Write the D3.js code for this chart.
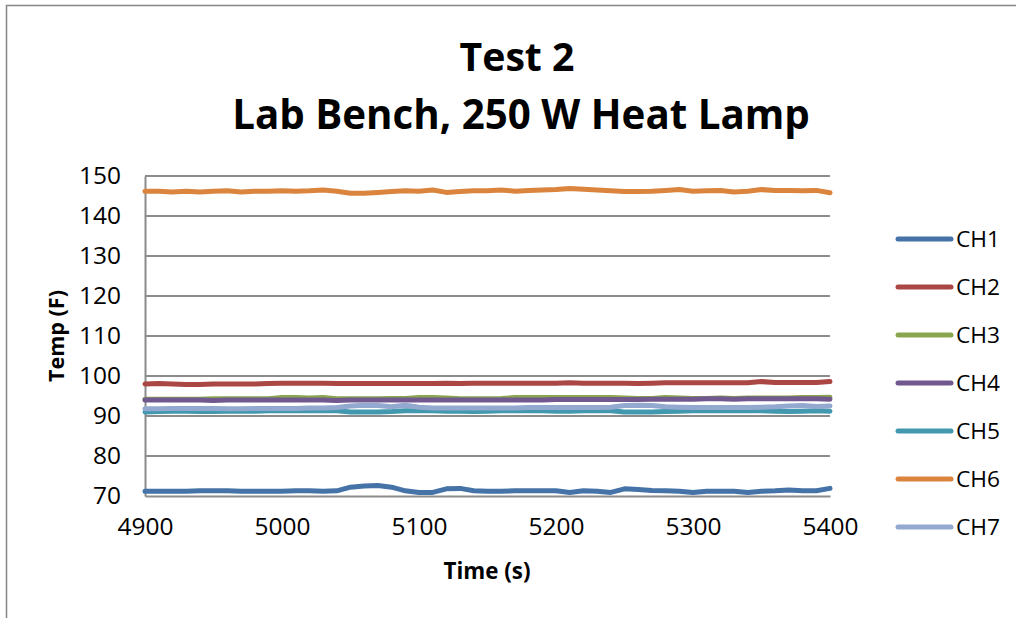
<!DOCTYPE html>
<html><head><meta charset="utf-8">
<script src="https://cdn.jsdelivr.net/npm/d3@7"></script>
<style>
html,body{margin:0;padding:0;background:#fff;}
svg{display:block;}
text{font-family:"Open Sans","Lato",sans-serif;fill:#000;}
</style></head><body>
<script>
const times = d3.range(4900, 5401, 10);
const seriesNames = ["CH1","CH2","CH3","CH4","CH5","CH6","CH7"];
const seriesColors = ["#4572A7","#AA4643","#89A54E","#71588F","#4198AF","#DB843D","#93A9CF"];
const yTicks = [70,80,90,100,110,120,130,140,150];
const xTicks = [4900,5000,5100,5200,5300,5400];

const ch1 = [71.2,71.2,71.2,71.2,71.3,71.3,71.3,71.2,71.2,71.2,71.2,71.3,71.3,71.2,71.3,72.2,72.5,72.6,72.2,71.3,70.9,70.9,71.8,71.9,71.3,71.2,71.2,71.3,71.3,71.3,71.3,70.9,71.3,71.2,70.9,71.8,71.6,71.4,71.3,71.2,70.9,71.2,71.2,71.2,70.9,71.2,71.3,71.5,71.3,71.3,71.9];
const ch2 = [98.0,98.1,98.0,97.9,97.9,98.0,98.0,98.0,98.0,98.1,98.2,98.2,98.2,98.2,98.1,98.1,98.1,98.1,98.1,98.1,98.1,98.1,98.2,98.1,98.2,98.2,98.2,98.2,98.2,98.2,98.2,98.3,98.2,98.2,98.2,98.2,98.1,98.2,98.3,98.3,98.3,98.3,98.3,98.3,98.3,98.6,98.4,98.4,98.4,98.4,98.6];
const ch3 = [94.2,94.2,94.2,94.2,94.2,94.3,94.3,94.3,94.3,94.3,94.6,94.6,94.5,94.6,94.3,94.3,94.3,94.3,94.4,94.4,94.6,94.6,94.5,94.3,94.3,94.3,94.4,94.6,94.6,94.6,94.6,94.6,94.6,94.6,94.6,94.5,94.4,94.4,94.6,94.5,94.4,94.4,94.5,94.4,94.5,94.5,94.5,94.5,94.6,94.6,94.7];
const ch4 = [94.0,94.0,94.0,94.0,94.0,93.9,94.0,94.0,94.0,94.0,94.0,94.0,94.0,94.0,93.9,94.0,94.0,94.0,94.0,94.0,94.0,94.0,94.0,94.0,94.0,94.0,94.0,94.0,94.0,94.0,94.1,94.1,94.1,94.1,94.1,94.1,94.1,94.2,94.2,94.2,94.2,94.3,94.3,94.2,94.3,94.3,94.3,94.3,94.3,94.3,94.2];
const ch5 = [91.0,91.1,91.2,91.2,91.1,91.1,91.2,91.2,91.2,91.3,91.3,91.3,91.3,91.3,91.3,91.0,91.0,91.0,91.1,91.3,91.3,91.3,91.2,91.2,91.1,91.2,91.3,91.3,91.3,91.3,91.2,91.2,91.3,91.3,91.3,91.0,91.0,91.0,91.1,91.2,91.3,91.3,91.3,91.3,91.3,91.3,91.2,91.1,91.2,91.3,91.2];
const ch6 = [146.2,146.2,146.0,146.2,146.0,146.2,146.3,146.0,146.2,146.2,146.3,146.2,146.3,146.5,146.2,145.7,145.7,145.9,146.1,146.3,146.2,146.5,145.9,146.1,146.3,146.3,146.5,146.2,146.4,146.5,146.6,146.9,146.7,146.5,146.3,146.1,146.1,146.2,146.4,146.6,146.2,146.3,146.4,146.0,146.2,146.6,146.4,146.4,146.3,146.4,145.8];
const ch7 = [91.8,91.8,91.9,91.9,91.9,91.9,91.8,91.8,91.9,91.9,91.9,91.9,92.0,92.0,92.1,92.5,92.7,92.6,92.3,92.7,92.2,92.0,92.0,92.0,92.0,92.0,92.0,92.0,92.1,92.1,92.1,92.1,92.1,92.1,92.2,92.6,92.7,92.6,92.3,92.2,92.1,92.1,92.1,92.1,92.1,92.2,92.3,92.5,92.6,92.4,92.5];
const seriesValues = [ch1,ch2,ch3,ch4,ch5,ch6,ch7];

const W = 1016, H = 618;
const svg = d3.select("body").append("svg").attr("width", W).attr("height", H);

// scale a text's font size so that its rendered width matches a target width
function fit(sel, target){
  sel.each(function(){
    const fs = parseFloat(d3.select(this).attr("font-size"));
    const w = this.getComputedTextLength();
    if (w > 0) d3.select(this).attr("font-size", (fs*target/w).toFixed(2));
  });
}

// outer chart border
svg.append("path").attr("d", `M6.5,${H} V5.5 H${W}`)
  .attr("fill","none").attr("stroke","#868686").attr("stroke-width",1.5);

const plot = {left:145, right:830, top:176, bottom:496};
const x = d3.scaleLinear().domain([4900,5400]).range([plot.left, plot.right]);
const y = d3.scaleLinear().domain([70,150]).range([plot.bottom, plot.top]);

// gridlines
svg.append("g").selectAll("line").data(yTicks.filter(d=>d>70)).join("line")
  .attr("x1", plot.left).attr("x2", plot.right)
  .attr("y1", d=>y(d)).attr("y2", d=>y(d))
  .attr("stroke","#8c8c8c").attr("stroke-width",2);

// axes
const yAxis = d3.axisLeft(y).tickValues(yTicks).tickSize(0).tickPadding(24);
const gy = svg.append("g").attr("transform",`translate(${plot.left},0)`).call(yAxis);
gy.select(".domain").attr("stroke","#8c8c8c").attr("stroke-width",2);
gy.selectAll("text").attr("font-size",20).style("font-family","'Open Sans', Lato, sans-serif");

const xAxis = d3.axisBottom(x).tickValues(xTicks).tickFormat(d3.format("d")).tickSize(0).tickPadding(22);
const gx = svg.append("g").attr("transform",`translate(0,${plot.bottom})`).call(xAxis);
gx.select(".domain").attr("stroke","#8c8c8c").attr("stroke-width",2);
gx.selectAll("text").attr("font-size",20).style("font-family","'Open Sans', Lato, sans-serif");

// fit tick label sizes ("150" ≈ 42 px wide, "4900" ≈ 54 px wide)
{
  const t = gy.selectAll("text").filter(d=>d===150).node();
  const fs = 20*42/t.getComputedTextLength();
  gy.selectAll("text").attr("font-size", fs.toFixed(2));
  gx.selectAll("text").attr("font-size", fs.toFixed(2));
}

// lines
const line = d3.line().x((d,i)=>x(times[i])).y(d=>y(d));
seriesValues.forEach((vals,k)=>{
  svg.append("path").datum(vals).attr("d", line)
    .attr("fill","none").attr("stroke", seriesColors[k]).attr("stroke-width",5)
    .attr("stroke-linejoin","round").attr("stroke-linecap","round");
});

// titles
svg.append("text").attr("x",517).attr("y",71).attr("text-anchor","middle")
  .attr("font-size",38).attr("font-weight","bold").text("Test 2").call(fit,115);
svg.append("text").attr("x",521).attr("y",129).attr("text-anchor","middle")
  .attr("font-size",38).attr("font-weight","bold").text("Lab Bench, 250 W Heat Lamp").call(fit,578);

svg.append("text").attr("x",487).attr("y",579).attr("text-anchor","middle")
  .attr("font-size",20).attr("font-weight","bold").text("Time (s)").call(fit,87);
svg.append("text").attr("transform","translate(64,336) rotate(-90)").attr("text-anchor","middle")
  .attr("font-size",20).attr("font-weight","bold").text("Temp (F)").call(fit,92);

// legend
const leg = svg.append("g");
seriesNames.forEach((n,k)=>{
  const ly = 239 + k*48;
  leg.append("line").attr("x1",898).attr("x2",951).attr("y1",ly).attr("y2",ly)
    .attr("stroke",seriesColors[k]).attr("stroke-width",5).attr("stroke-linecap","round");
  leg.append("text").attr("x",956).attr("y",ly+8).attr("font-size",20).text(n).call(fit,44);
});
</script>
</body></html>
